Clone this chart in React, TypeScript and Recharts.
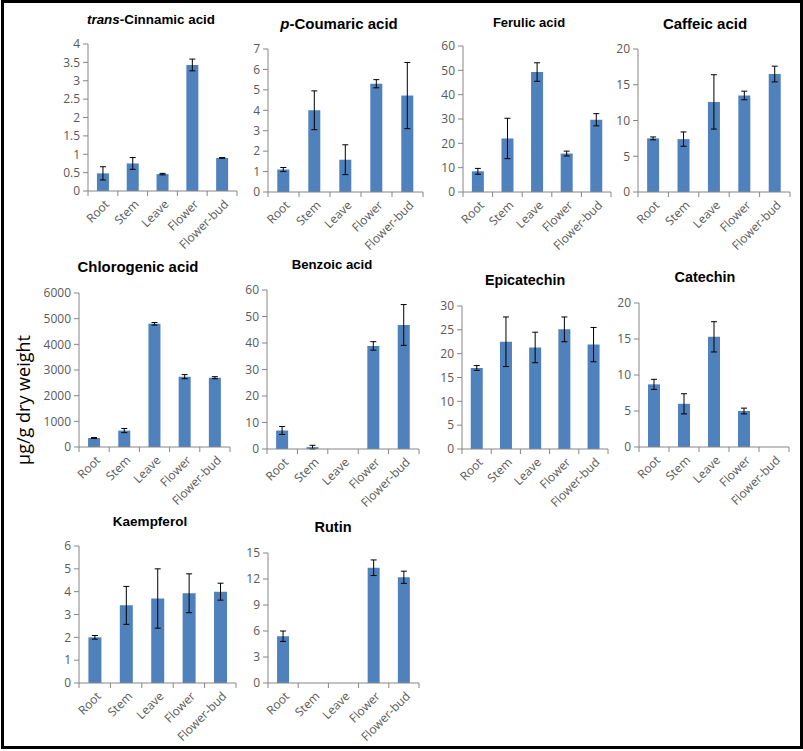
import React from 'react';
import { BarChart, Bar, XAxis, YAxis, ErrorBar } from 'recharts';

const tissues = ['Root', 'Stem', 'Leave', 'Flower', 'Flower-bud'];

const cinnamicMean = [0.48, 0.75, 0.46, 3.43, 0.9];
const cinnamicErr = [0.18, 0.16, 0.02, 0.16, 0.01];
const coumaricMean = [1.1, 4.0, 1.58, 5.3, 4.72];
const coumaricErr = [0.1, 0.95, 0.73, 0.2, 1.62];
const ferulicMean = [8.5, 22, 49.3, 15.8, 29.7];
const ferulicErr = [1.2, 8.3, 3.8, 1.0, 2.5];
const caffeicMean = [7.5, 7.4, 12.6, 13.5, 16.5];
const caffeicErr = [0.2, 1.0, 3.8, 0.6, 1.1];
const chlorogenicMean = [350, 640, 4800, 2740, 2700];
const chlorogenicErr = [20, 80, 50, 80, 40];
const benzoicMean = [7, 0.7, 0, 38.9, 46.8];
const benzoicErr = [1.5, 0.7, 0, 1.6, 7.7];
const epicatechinMean = [17, 22.5, 21.3, 25.1, 21.9];
const epicatechinErr = [0.5, 5.2, 3.2, 2.6, 3.6];
const catechinMean = [8.7, 6.0, 15.3, 5.0, 0];
const catechinErr = [0.7, 1.4, 2.1, 0.4, 0];
const kaempferolMean = [2.0, 3.4, 3.7, 3.93, 4.0];
const kaempferolErr = [0.08, 0.83, 1.3, 0.85, 0.37];
const rutinMean = [5.4, 0, 0, 13.3, 12.2];
const rutinErr = [0.6, 0, 0, 0.9, 0.7];

const cinnamicTicks = [0, 0.5, 1, 1.5, 2, 2.5, 3, 3.5, 4];
const coumaricTicks = [0, 1, 2, 3, 4, 5, 6, 7];
const ferulicTicks = [0, 10, 20, 30, 40, 50, 60];
const caffeicTicks = [0, 5, 10, 15, 20];
const chlorogenicTicks = [0, 1000, 2000, 3000, 4000, 5000, 6000];
const benzoicTicks = [0, 10, 20, 30, 40, 50, 60];
const epicatechinTicks = [0, 5, 10, 15, 20, 25, 30];
const catechinTicks = [0, 5, 10, 15, 20];
const kaempferolTicks = [0, 1, 2, 3, 4, 5, 6];
const rutinTicks = [0, 3, 6, 9, 12, 15];

const BAR = '#4F81BD';
const AXIS = '#868686';
const TXT = '#595959';
const TICK_FONT = '"Open Sans", sans-serif';
const TITLE_FONT = '"Liberation Sans", Arial, sans-serif';

const YW = 50;
const MT = 10;
const MR = 10;
const XH = 75;

// category labels sit under the bars, tick marks go between categories (Excel style)
const XTick = (props: any) => {
  const { x, y, payload, index, band, count } = props;
  const half = band / 2;
  const ax = x + 7;
  const ay = y + 14;
  return (
    <g>
      <line x1={x - half} x2={x - half} y1={y} y2={y + 5} stroke={AXIS} />
      {index === count - 1 && <line x1={x + half} x2={x + half} y1={y} y2={y + 5} stroke={AXIS} />}
      <text x={ax} y={ay} textAnchor="end" transform={`rotate(-45 ${ax} ${ay})`} fontSize={12} fontFamily={TICK_FONT} fill={TXT}>
        {payload.value}
      </text>
    </g>
  );
};

type PanelProps = {
  title: React.ReactNode;
  titleX: number;
  titleY: number;
  titleSize: number;
  mean: number[];
  err: number[];
  ticks: number[];
  l: number;
  t: number;
  r: number;
  b: number;
};

const Panel = ({ title, titleX, titleY, titleSize, mean, err, ticks, l, t, r, b }: PanelProps) => {
  const data = tissues.map((name, i) => ({ name, mean: mean[i], err: err[i] }));
  const band = (r - l) / tissues.length;
  return (
    <>
      <div
        style={{
          position: 'absolute',
          left: titleX,
          top: titleY,
          transform: 'translate(-50%, -50%)',
          fontFamily: TITLE_FONT,
          fontWeight: 'bold',
          fontSize: titleSize,
          whiteSpace: 'nowrap',
          color: '#000',
          lineHeight: 1,
        }}
      >
        {title}
      </div>
      <div style={{ position: 'absolute', left: l - YW, top: t - MT }}>
        <BarChart
          width={r - l + YW + MR}
          height={b - t + MT + XH}
          data={data}
          margin={{ top: MT, right: MR, left: 0, bottom: 0 }}
          barCategoryGap="30%"
        >
          <XAxis
            dataKey="name"
            height={XH}
            interval={0}
            tickLine={false}
            tickSize={0}
            tickMargin={0}
            axisLine={{ stroke: AXIS }}
            tick={(p: any) => <XTick {...p} band={band} count={tissues.length} />}
          />
          <YAxis
            width={YW}
            domain={[0, ticks[ticks.length - 1]]}
            ticks={ticks}
            interval={0}
            tickSize={5}
            tickMargin={3}
            axisLine={{ stroke: AXIS }}
            tickLine={{ stroke: AXIS }}
            tick={{ fontSize: 12, fill: TXT, fontFamily: TICK_FONT }}
          />
          <Bar dataKey="mean" fill={BAR} isAnimationActive={false}>
            <ErrorBar dataKey="err" width={3} stroke="#000" strokeWidth={1} isAnimationActive={false} />
          </Bar>
        </BarChart>
      </div>
    </>
  );
};

export default function App() {
  return (
    <div style={{ position: 'absolute', left: 0, top: 0, width: 803, height: 751, background: '#fff', overflow: 'hidden' }}>
      <Panel
        title={<><i>trans</i>-Cinnamic acid</>}
        titleX={151} titleY={20} titleSize={13.4}
        mean={cinnamicMean} err={cinnamicErr} ticks={cinnamicTicks}
        l={88} t={44} r={237} b={191}
      />
      <Panel
        title={<><i>p</i>-Coumaric acid</>}
        titleX={339} titleY={23} titleSize={15}
        mean={coumaricMean} err={coumaricErr} ticks={coumaricTicks}
        l={268} t={49} r={423} b={192}
      />
      <Panel
        title="Ferulic acid"
        titleX={529} titleY={22} titleSize={13}
        mean={ferulicMean} err={ferulicErr} ticks={ferulicTicks}
        l={463} t={46} r={611} b={192}
      />
      <Panel
        title="Caffeic acid"
        titleX={705} titleY={23} titleSize={15}
        mean={caffeicMean} err={caffeicErr} ticks={caffeicTicks}
        l={638} t={49} r={790} b={192}
      />
      <Panel
        title="Chlorogenic acid"
        titleX={138} titleY={267} titleSize={14.9}
        mean={chlorogenicMean} err={chlorogenicErr} ticks={chlorogenicTicks}
        l={79} t={293} r={230} b={447}
      />
      <Panel
        title="Benzoic acid"
        titleX={332} titleY={265} titleSize={13.2}
        mean={benzoicMean} err={benzoicErr} ticks={benzoicTicks}
        l={267} t={290} r={419} b={449}
      />
      <Panel
        title="Epicatechin"
        titleX={525} titleY={280} titleSize={14.3}
        mean={epicatechinMean} err={epicatechinErr} ticks={epicatechinTicks}
        l={462} t={306} r={608} b={449}
      />
      <Panel
        title="Catechin"
        titleX={705} titleY={277} titleSize={14.4}
        mean={catechinMean} err={catechinErr} ticks={catechinTicks}
        l={639} t={303} r={789} b={447}
      />
      <Panel
        title="Kaempferol"
        titleX={150} titleY={522} titleSize={13.5}
        mean={kaempferolMean} err={kaempferolErr} ticks={kaempferolTicks}
        l={79} t={546} r={236} b={683}
      />
      <Panel
        title="Rutin"
        titleX={333} titleY={527} titleSize={14.5}
        mean={rutinMean} err={rutinErr} ticks={rutinTicks}
        l={268} t={553} r={419} b={683}
      />
      <div
        style={{
          position: 'absolute',
          left: 23,
          top: 400,
          transform: 'translate(-50%, -50%) rotate(-90deg)',
          fontFamily: TICK_FONT,
          fontSize: 18,
          whiteSpace: 'nowrap',
          color: '#000',
          lineHeight: 1,
        }}
      >
        µg/g dry weight
      </div>
      <div
        style={{
          position: 'absolute',
          left: 1,
          top: 0,
          width: 802,
          height: 749,
          border: '3px solid #000',
          boxSizing: 'border-box',
          pointerEvents: 'none',
        }}
      />
    </div>
  );
}
